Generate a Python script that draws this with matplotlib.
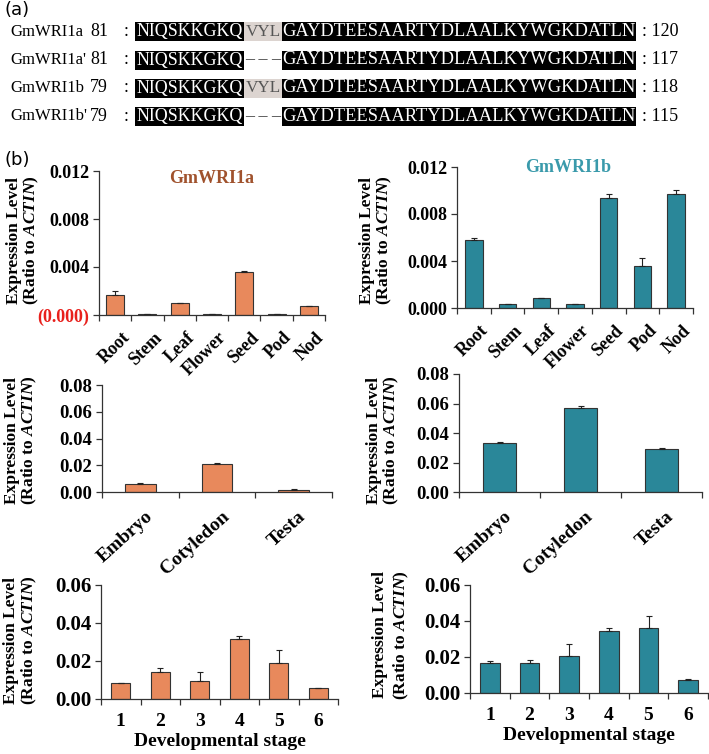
import numpy as np
import matplotlib
matplotlib.use("Agg")
import matplotlib.pyplot as plt
from matplotlib.patches import Rectangle
from matplotlib.transforms import ScaledTranslation

plt.rcParams['font.family'] = ['Liberation Serif', 'DejaVu Serif']
plt.rcParams['font.weight'] = 'bold'
plt.rcParams['mathtext.fontset'] = 'custom'
plt.rcParams['mathtext.it'] = 'Liberation Serif:italic:bold'
plt.rcParams['mathtext.rm'] = 'Liberation Serif:bold'

# ---- data -------------------------------------------------------------
seq_names = ["GmWRI1a", "GmWRI1a'", "GmWRI1b", "GmWRI1b'"]
seq_start = [81, 81, 79, 79]
seq_end = [120, 117, 118, 115]
seq_left = "NIQSKKGKQ"
seq_mid = ["VYL", None, "VYL", None]
seq_right = "GAYDTEESAARTYDLAALKYWGKDATLN"

tissues = ['Root', 'Stem', 'Leaf', 'Flower', 'Seed', 'Pod', 'Nod']
wri1a_tissue = [0.00164, 0.00005, 0.00100, 0.00008, 0.00360, 0.00008, 0.00078]
wri1a_tissue_err = [0.00038, 0.00001, 0.00003, 0.00001, 0.00010, 0.00001, 0.00001]
wri1b_tissue = [0.00576, 0.00034, 0.00088, 0.00031, 0.00936, 0.00360, 0.00973]
wri1b_tissue_err = [0.00017, 0.00001, 0.00001, 0.00004, 0.00034, 0.00063, 0.00028]

seed_parts = ['Embryo', 'Cotyledon', 'Testa']
wri1a_seed = [0.0060, 0.0213, 0.00125]
wri1a_seed_err = [0.0007, 0.0007, 0.0012]
wri1b_seed = [0.0331, 0.0571, 0.0290]
wri1b_seed_err = [0.0011, 0.0009, 0.0010]

stages = ['1', '2', '3', '4', '5', '6']
wri1a_stage = [0.0083, 0.0144, 0.0095, 0.0314, 0.0188, 0.0056]
wri1a_stage_err = [0.0003, 0.0017, 0.0045, 0.0019, 0.0070, 0.0001]
wri1b_stage = [0.0164, 0.0167, 0.0205, 0.0344, 0.0359, 0.0074]
wri1b_stage_err = [0.0016, 0.0017, 0.0065, 0.0019, 0.0071, 0.0002]

ORANGE = '#E8895C'
TEAL = '#2A8799'
EDGE = '#333333'
SERIF = ['Liberation Serif', 'DejaVu Serif']

W, H = 709, 754
fig = plt.figure(figsize=(W / 100, H / 100), dpi=100)

# overlay in pixel coordinates for the alignment and free labels
ov = fig.add_axes([0, 0, 1, 1])
ov.set_xlim(0, W)
ov.set_ylim(H, 0)
ov.axis('off')
ov.patch.set_alpha(0)

ov.text(4, 10, '(a)', fontsize=13, fontweight='normal', family='DejaVu Sans',
        va='center', ha='left')
ov.text(4, 160, '(b)', fontsize=13, fontweight='normal', family='DejaVu Sans',
        va='center', ha='left')

renderer = fig.canvas.get_renderer()


def fit_text(x0, x1, y, s, color):
    t = ov.text((x0 + x1) / 2, y, s, ha='center', va='center', fontsize=13,
                fontweight='normal', family=SERIF, color=color)
    w = t.get_window_extent(renderer).width
    t.set_fontsize(13 * (x1 - x0 - 3) / w)
    return t


row_y = [31.5, 60, 88, 116.5]
for i, y in enumerate(row_y):
    ov.text(10, y, seq_names[i], fontsize=12, fontweight='normal', family=SERIF,
            ha='left', va='center')
    ov.text(90, y, str(seq_start[i]), fontsize=13, fontweight='normal',
            family=SERIF, ha='left', va='center')
    ov.text(124, y, ':', fontsize=13, fontweight='normal', family=SERIF,
            ha='left', va='center')
    ov.add_patch(Rectangle((135, y - 9.5), 109, 19, color='black', lw=0))
    ov.add_patch(Rectangle((282, y - 9.5), 354, 19, color='black', lw=0))
    fit_text(135, 244, y, seq_left, 'white')
    fit_text(282, 636, y, seq_right, 'white')
    if seq_mid[i]:
        ov.add_patch(Rectangle((244, y - 9.5), 38, 19, color='#DCD4D0', lw=0))
        fit_text(244, 282, y, seq_mid[i], '#555555')
    else:
        ov.text(263, y, '\u2013 \u2013 \u2013', fontsize=13, fontweight='normal',
                family=SERIF, color='#333333', ha='center', va='center')
    ov.text(642, y, ': %d' % seq_end[i], fontsize=13, fontweight='normal',
            family=SERIF, ha='left', va='center')


def px_axes(x0, x1, y0, y1):
    return fig.add_axes([x0 / W, 1 - y1 / H, (x1 - x0) / W, (y1 - y0) / H])


def bar_panel(ax, labels, vals, errs, color, width, ymax, yticks, ytick_labels,
              tick_fs):
    n = len(labels)
    x = np.arange(n) + 0.5
    ax.bar(x, vals, width, color=color, edgecolor=EDGE, linewidth=0.8,
           yerr=[np.zeros(n), errs], capsize=2.5,
           error_kw=dict(elinewidth=0.8, ecolor='#222222', capthick=0.8))
    ax.set_xlim(0, n)
    ax.set_ylim(0, ymax)
    ax.set_yticks(yticks)
    ax.set_yticklabels(ytick_labels, fontsize=tick_fs, fontweight='bold')
    ax.set_xticks(np.arange(n + 1))
    ax.set_xticklabels([])
    ax.tick_params(axis='both', which='major', direction='out', length=4,
                   width=0.9, color=EDGE)
    ax.tick_params(axis='y', pad=3)
    for s in ['top', 'right']:
        ax.spines[s].set_visible(False)
    for s in ['left', 'bottom']:
        ax.spines[s].set_color(EDGE)
        ax.spines[s].set_linewidth(0.9)
    ax.patch.set_alpha(0)
    return x


def rotated_labels(ax, x, labels, dx, dy, rot, fs):
    # top-right corner of each label sits just right of the category centre
    off = ScaledTranslation(dx / 100, -dy / 100, fig.dpi_scale_trans)
    for xi, lab in zip(x, labels):
        ax.text(xi, 0, lab, transform=ax.get_xaxis_transform() + off,
                rotation=rot, rotation_mode='anchor', ha='right', va='top',
                fontsize=fs, fontweight='bold')


def ylabel(xc, yc, spacing, fs=12.5):
    ov.text(xc, yc, 'Expression Level\n(Ratio to $\\mathit{ACTIN}$)',
            rotation=90, ha='center', va='center', multialignment='center',
            fontsize=fs, fontweight='bold', linespacing=spacing)


# tissues
ax1 = px_axes(99, 325, 171, 315)
x = bar_panel(ax1, tissues, wri1a_tissue, wri1a_tissue_err, ORANGE, 0.56, 0.012,
              [0, 0.004, 0.008, 0.012], ['(0.000)', '0.004', '0.008', '0.012'], 13)
ax1.get_yticklabels()[0].set_color('#E8201C')
rotated_labels(ax1, x, tissues, 6, 14, 45, 13)
ax1.text(0.5, 0.95, 'GmWRI1a', transform=ax1.transAxes, ha='center', va='center',
         fontsize=13, fontweight='bold', color='#A0522D')
ylabel(23.5, 240, 1.0)

ax2 = px_axes(457, 693, 167, 308)
x = bar_panel(ax2, tissues, wri1b_tissue, wri1b_tissue_err, TEAL, 0.52, 0.012,
              [0, 0.004, 0.008, 0.012], ['0.000', '0.004', '0.008', '0.012'], 13)
rotated_labels(ax2, x, tissues, 6, 14, 45, 13)
ax2.text(0.47, 1.0, 'GmWRI1b', transform=ax2.transAxes, ha='center', va='center',
         fontsize=13, fontweight='bold', color='#3A9AAB')
ylabel(376.5, 240, 1.0)

# seed parts
ax3 = px_axes(102, 332, 385, 492)
x = bar_panel(ax3, seed_parts, wri1a_seed, wri1a_seed_err, ORANGE, 0.4, 0.08,
              [0, 0.02, 0.04, 0.06, 0.08], ['0.00', '0.02', '0.04', '0.06', '0.08'],
              13.5)
rotated_labels(ax3, x, seed_parts, 4, 16, 42, 14)
ylabel(21.5, 440, 1.0)

ax4 = px_axes(459, 702, 374, 492)
x = bar_panel(ax4, seed_parts, wri1b_seed, wri1b_seed_err, TEAL, 0.4, 0.08,
              [0, 0.02, 0.04, 0.06, 0.08], ['0.00', '0.02', '0.04', '0.06', '0.08'],
              13.5)
rotated_labels(ax4, x, seed_parts, 4, 16, 42, 14)
ylabel(383.5, 440, 1.0)

# developmental stages
ax5 = px_axes(101, 338, 585, 699)
bar_panel(ax5, stages, wri1a_stage, wri1a_stage_err, ORANGE, 0.49, 0.06,
          [0, 0.02, 0.04, 0.06], ['0.00', '0.02', '0.04', '0.06'], 15)
ax5.set_xticks(np.arange(len(stages)) + 0.5, minor=True)
ax5.set_xticklabels(stages, minor=True, fontsize=14, fontweight='bold')
ax5.tick_params(axis='x', which='minor', length=0, pad=10)
ax5.set_xlabel('Developmental stage', fontsize=14, fontweight='bold', labelpad=2)
ylabel(21, 640, 1.0)

ax6 = px_axes(470, 708, 585, 693)
bar_panel(ax6, stages, wri1b_stage, wri1b_stage_err, TEAL, 0.5, 0.06,
          [0, 0.02, 0.04, 0.06], ['0.00', '0.02', '0.04', '0.06'], 15)
ax6.set_xticks(np.arange(len(stages)) + 0.5, minor=True)
ax6.set_xticklabels(stages, minor=True, fontsize=14, fontweight='bold')
ax6.tick_params(axis='x', which='minor', length=0, pad=10)
ax6.set_xlabel('Developmental stage', fontsize=14, fontweight='bold', labelpad=2)
ylabel(391.5, 635, 1.3)

fig.savefig('out.png', dpi=100)
